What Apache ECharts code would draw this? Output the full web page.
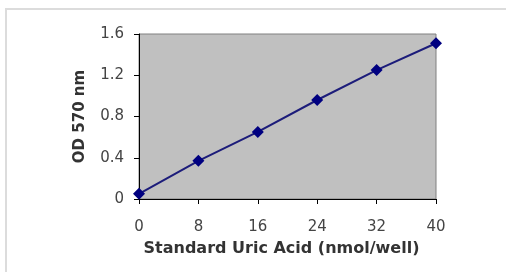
<!DOCTYPE html>
<html>
<head>
<meta charset="utf-8">
<script src="https://cdn.jsdelivr.net/npm/echarts@6/dist/echarts.min.js"></script>
<style>
  html, body { margin: 0; padding: 0; background: #fff; }
  #chart { width: 506px; height: 272px; }
</style>
</head>
<body>
<div id="chart"></div>
<script>
// standard curve readings
var uricAcid = [0, 8, 16, 24, 32, 40];
var od570 = [0.05, 0.37, 0.65, 0.96, 1.25, 1.51];
var xTicks = [0, 8, 16, 24, 32, 40];
var yTicks = [0, 0.4, 0.8, 1.2, 1.6];

var chart = echarts.init(document.getElementById("chart"), null, { renderer: "canvas" });

var points = uricAcid.map(function (x, i) { return [x, od570[i]]; });

var option = {
  animation: false,
  backgroundColor: "#fff",
  graphic: [
    {
      type: "rect",
      shape: { x: 6, y: 9, width: 520, height: 280 },
      style: { fill: "none", stroke: "#dcdcdc", lineWidth: 2 },
      silent: true
    }
  ],
  grid: {
    left: 139, right: 70, top: 34, bottom: 73,
    show: true,
    backgroundColor: "#c0c0c0",
    borderColor: "#808080",
    borderWidth: 1
  },
  xAxis: {
    type: "value",
    min: 0, max: 40, interval: 8,
    name: "Standard Uric Acid (nmol/well)",
    nameLocation: "middle",
    nameGap: 42,
    nameTextStyle: { fontFamily: "DejaVu Sans", fontWeight: "bold", fontSize: 16, color: "#333", padding: [0, 12, 0, 0] },
    axisLine: { show: true, lineStyle: { color: "#000", width: 1 } },
    axisTick: { show: true, inside: false, length: 5, lineStyle: { color: "#000" } },
    axisLabel: {
      fontFamily: "DejaVu Sans", fontSize: 15, color: "#444", margin: 21,
      formatter: function (v) { return xTicks.indexOf(v) >= 0 ? String(v) : ""; }
    },
    splitLine: { show: false }
  },
  yAxis: {
    type: "value",
    min: 0, max: 1.6, interval: 0.4,
    name: "OD 570 nm",
    nameLocation: "middle",
    nameGap: 51,
    nameTextStyle: { fontFamily: "DejaVu Sans", fontWeight: "bold", fontSize: 15, color: "#333" },
    axisLine: { show: true, lineStyle: { color: "#000", width: 1 } },
    axisTick: { show: true, inside: false, length: 5, lineStyle: { color: "#000" } },
    axisLabel: {
      fontFamily: "DejaVu Sans", fontSize: 15, color: "#444", margin: 15,
      formatter: function (v) {
        var r = Math.round(v * 10) / 10;
        return yTicks.indexOf(r) >= 0 ? (r === 0 ? "0" : r.toFixed(1)) : "";
      }
    },
    splitLine: { show: false }
  },
  series: [
    {
      type: "line",
      data: points,
      symbol: "diamond",
      symbolSize: 12,
      lineStyle: { color: "#1c1c7a", width: 2 },
      itemStyle: { color: "#000080" },
      clip: false
    }
  ]
};

chart.setOption(option);
</script>
</body>
</html>
